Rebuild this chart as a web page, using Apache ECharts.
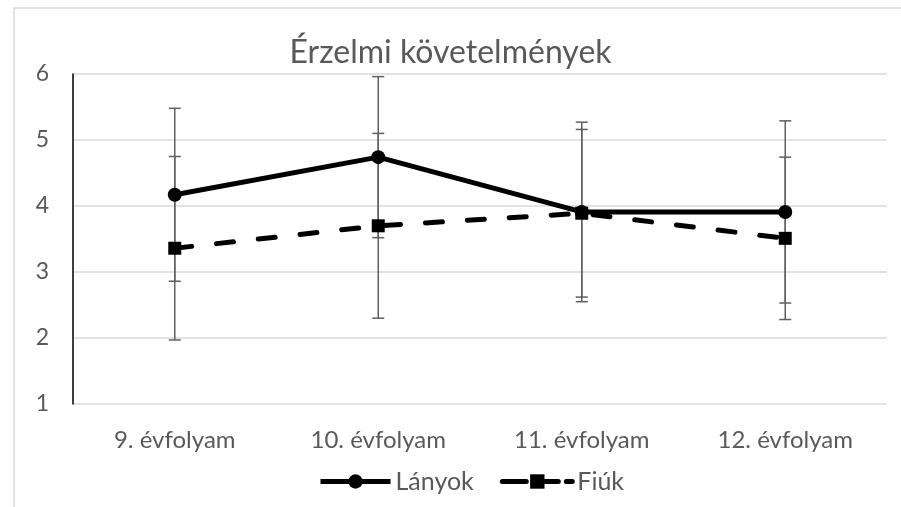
<!DOCTYPE html>
<html>
<head>
<meta charset="utf-8">
<script src="https://cdn.jsdelivr.net/npm/echarts@6/dist/echarts.min.js"></script>
<style>
html,body{margin:0;padding:0;background:#fff;}
#c{width:901px;height:507px;}
</style>
</head>
<body>
<div id="c"></div>
<script>
var categories = ['9. évfolyam', '10. évfolyam', '11. évfolyam', '12. évfolyam'];
var lanyok = [4.17, 4.74, 3.91, 3.91];
var lanyokErr = [1.31, 1.22, 1.36, 1.38];
var fiuk = [3.36, 3.70, 3.89, 3.51];
var fiukErr = [1.39, 1.40, 1.27, 1.23];
var yTicks = [1, 2, 3, 4, 5, 6];

var FONT = 'Lato';
var TXT = '#595959';

function errData(vals, errs) {
  return vals.map(function (v, i) { return [i, v - errs[i], v + errs[i]]; });
}
function errRender(params, api) {
  var x = api.value(0);
  var lo = api.coord([x, api.value(1)]);
  var hi = api.coord([x, api.value(2)]);
  var hw = 6;
  var st = { stroke: '#5f5f5f', lineWidth: 1.5, fill: null };
  return {
    type: 'group',
    children: [
      { type: 'line', shape: { x1: lo[0], y1: lo[1], x2: hi[0], y2: hi[1] }, style: st },
      { type: 'line', shape: { x1: lo[0] - hw, y1: lo[1], x2: lo[0] + hw, y2: lo[1] }, style: st },
      { type: 'line', shape: { x1: hi[0] - hw, y1: hi[1], x2: hi[0] + hw, y2: hi[1] }, style: st }
    ]
  };
}

var chart = echarts.init(document.getElementById('c'), null, { renderer: 'canvas' });
chart.setOption({
  animation: false,
  backgroundColor: '#fff',
  graphic: [{
    type: 'rect', shape: { x: 14, y: 8, width: 1000, height: 1000 },
    style: { fill: 'none', stroke: '#d9d9d9', lineWidth: 1.5 }, silent: true, z: -10
  }],
  title: {
    text: 'Érzelmi követelmények', left: 'center', top: 32,
    textStyle: { fontFamily: FONT, fontSize: 32, fontWeight: 'normal', color: TXT }
  },
  legend: {
    bottom: 8, left: 313, itemWidth: 70, itemHeight: 18, itemGap: 26,
    textStyle: { fontFamily: FONT, fontSize: 25, color: TXT },
    data: [
      { name: 'Lányok', lineStyle: { width: 5, color: '#000' }, itemStyle: { color: '#000' } },
      { name: 'Fiúk', lineStyle: { width: 5, color: '#000', type: [24, 8] }, itemStyle: { color: '#000' } }
    ]
  },
  grid: { left: 73, right: 14, top: 74, bottom: 103 },
  xAxis: {
    type: 'category', data: categories, boundaryGap: true,
    axisLine: { show: false }, axisTick: { show: false },
    axisLabel: { fontFamily: FONT, fontSize: 24, color: TXT, margin: 24 }
  },
  yAxis: {
    type: 'value', min: 1, max: 6, interval: 1,
    axisLine: { show: true, lineStyle: { color: '#000', width: 1.5 } },
    axisTick: { show: false },
    axisLabel: {
      fontFamily: FONT, fontSize: 23, color: TXT, margin: 24,
      formatter: function (v) { return yTicks.indexOf(v) >= 0 ? String(v) : ''; }
    },
    splitLine: { show: true, lineStyle: { color: '#d9d9d9', width: 1.5 } }
  },
  series: [
    {
      name: 'Lányok', type: 'line', data: lanyok, z: 5,
      symbol: 'circle', symbolSize: 14,
      lineStyle: { color: '#000', width: 5 },
      itemStyle: { color: '#000' }
    },
    {
      name: 'Fiúk', type: 'line', data: fiuk, z: 4,
      symbol: 'rect', symbolSize: 13,
      lineStyle: { color: '#000', width: 5, type: [17, 25], cap: 'round' },
      itemStyle: { color: '#000' }
    },
    {
      name: 'errL', type: 'custom', data: errData(lanyok, lanyokErr), z: 3,
      renderItem: errRender, encode: { x: 0, y: [1, 2] }, silent: true
    },
    {
      name: 'errF', type: 'custom', data: errData(fiuk, fiukErr), z: 3,
      renderItem: errRender, encode: { x: 0, y: [1, 2] }, silent: true
    }
  ]
});
</script>
</body>
</html>
